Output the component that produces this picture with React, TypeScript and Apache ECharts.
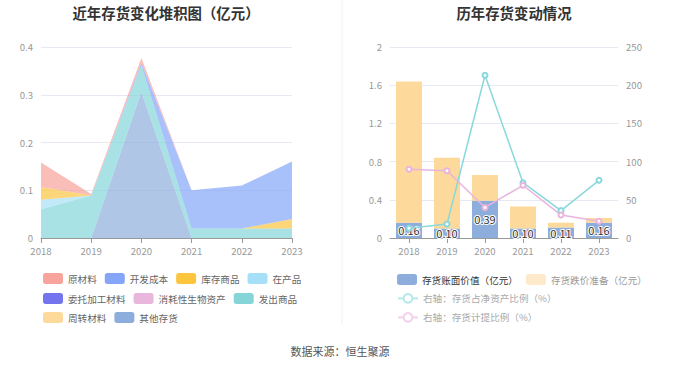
import React, { useEffect, useRef } from 'react';
import * as echarts from 'echarts';

const years = ['2018', '2019', '2020', '2021', '2022', '2023'];

// Left chart: inventory composition (亿元)
const rawMaterial = [0.051, 0.003, 0.01, 0, 0, 0];
const devCost = [0, 0, 0.005, 0.08, 0.09, 0.12];
const goodsInStock = [0.027, 0, 0, 0, 0, 0.02];
const wip = [0.02, 0, 0, 0, 0, 0];
const consigned = [0, 0, 0, 0, 0, 0];
const bioAssets = [0, 0, 0, 0, 0, 0];
const shipped = [0.06, 0.089, 0.056, 0.02, 0.02, 0.02];
const turnover = [0, 0, 0, 0, 0, 0];
const otherInv = [0, 0, 0.306, 0, 0, 0];

// Right chart
const bookValue = [0.16, 0.1, 0.39, 0.1, 0.11, 0.16];
const reserve = [1.48, 0.74, 0.27, 0.23, 0.05, 0.05];
const netAssetRatio = [12.7, 18.3, 213, 72.4, 35.8, 75.5];
const provisionRatio = [90, 88, 40, 69, 30, 22];

const leftTicks = { min: 0, max: 0.4, interval: 0.1 };
const rightTicksL = { min: 0, max: 2, interval: 0.4 };
const rightTicksR = { min: 0, max: 250, interval: 50 };

const FONT = "'Noto Sans CJK SC', 'Noto Sans', sans-serif";

const leftSeriesDefs = [
  { name: '原材料', data: rawMaterial, color: '#f8a39b' },
  { name: '开发成本', data: devCost, color: '#85a6f8' },
  { name: '库存商品', data: goodsInStock, color: '#fbc53e' },
  { name: '在产品', data: wip, color: '#a6e0f8' },
  { name: '委托加工材料', data: consigned, color: '#7474ef' },
  { name: '消耗性生物资产', data: bioAssets, color: '#e8b7db' },
  { name: '发出商品', data: shipped, color: '#85d5d8' },
  { name: '周转材料', data: turnover, color: '#fdd99b' },
  { name: '其他存货', data: otherInv, color: '#8daedc' },
];

const BAR1 = '存货账面价值（亿元）';
const BAR2 = '存货跌价准备（亿元）';
const LINE1 = '右轴：存货占净资产比例（%）';
const LINE2 = '右轴：存货计提比例（%）';

export default function App() {
  const ref = useRef<HTMLDivElement>(null);
  useEffect(() => {
    document.body.style.margin = '0';
    if (!ref.current) return;
    const chart = echarts.init(ref.current, undefined, { renderer: 'svg' });

    const leftSeries = [...leftSeriesDefs].reverse().map((d) => ({
      name: d.name,
      type: 'line',
      stack: 'inv',
      xAxisIndex: 0,
      yAxisIndex: 0,
      data: d.data,
      symbol: 'none',
      showSymbol: false,
      lineStyle: { width: 0 },
      itemStyle: { color: d.color },
      areaStyle: { color: d.color, opacity: 0.7 },
    }));

    const legendCommon = {
      itemWidth: 20,
      itemHeight: 11,
      itemGap: 8,
      textStyle: { fontSize: 9.6, color: '#666', fontFamily: FONT },
      selectedMode: false,
    };

    const axisLabelStyle = { color: '#999', fontSize: 9.6, fontFamily: FONT };

    chart.setOption({
      animation: false,
      textStyle: { fontFamily: FONT },
      grid: [
        { left: 41, top: 47, width: 251, height: 191 },
        { left: 390, top: 47, width: 228, height: 191 },
      ],
      xAxis: [
        {
          type: 'category',
          gridIndex: 0,
          data: years,
          boundaryGap: false,
          axisLine: { lineStyle: { color: '#999' } },
          axisTick: { show: true, lineStyle: { color: '#999' } },
          axisLabel: axisLabelStyle,
        },
        {
          type: 'category',
          gridIndex: 1,
          data: years,
          axisLine: { lineStyle: { color: '#999' } },
          axisTick: { show: true, alignWithLabel: true, lineStyle: { color: '#999' } },
          axisLabel: axisLabelStyle,
        },
      ],
      yAxis: [
        {
          type: 'value',
          gridIndex: 0,
          ...leftTicks,
          axisLine: { show: false },
          axisTick: { show: false },
          axisLabel: axisLabelStyle,
          splitLine: { lineStyle: { color: '#e6e9f2' } },
        },
        {
          type: 'value',
          gridIndex: 1,
          ...rightTicksL,
          axisLine: { show: false },
          axisTick: { show: false },
          axisLabel: axisLabelStyle,
          splitLine: { lineStyle: { color: '#e6e9f2' } },
        },
        {
          type: 'value',
          gridIndex: 1,
          position: 'right',
          ...rightTicksR,
          axisLine: { show: false },
          axisTick: { show: false },
          axisLabel: axisLabelStyle,
          splitLine: { show: false },
        },
      ],
      legend: [
        { ...legendCommon, icon: 'roundRect', left: 38, top: 268, data: ['原材料', '开发成本', '库存商品', '在产品'] },
        { ...legendCommon, icon: 'roundRect', left: 38, top: 288, data: ['委托加工材料', '消耗性生物资产', '发出商品'] },
        { ...legendCommon, icon: 'roundRect', left: 38, top: 307, data: ['周转材料', '其他存货'] },
        {
          ...legendCommon,
          icon: 'roundRect',
          left: 392,
          top: 269,
          data: [
            { name: BAR1, textStyle: { color: '#333' } },
            { name: BAR2, textStyle: { color: '#999' }, itemStyle: { color: '#feeacb' } },
          ],
        },
        {
          ...legendCommon,
          left: 392,
          top: 288,
          data: [
            {
              name: LINE1,
              textStyle: { color: '#aaa' },
              itemStyle: { color: '#b6e8ea' },
              lineStyle: { color: '#b6e8ea' },
            },
          ],
        },
        {
          ...legendCommon,
          left: 392,
          top: 307,
          data: [
            {
              name: LINE2,
              textStyle: { color: '#aaa' },
              itemStyle: { color: '#f4d0ea' },
              lineStyle: { color: '#f4d0ea' },
            },
          ],
        },
      ],
      graphic: [
        {
          type: 'text',
          x: 166,
          y: 12,
          style: {
            text: '近年存货变化堆积图（亿元）',
            fontSize: 14.4,
            fontWeight: 'bold',
            fill: '#333',
            fontFamily: FONT,
            align: 'center',
            verticalAlign: 'middle',
          },
        },
        {
          type: 'text',
          x: 514,
          y: 12,
          style: {
            text: '历年存货变动情况',
            fontSize: 14.4,
            fontWeight: 'bold',
            fill: '#333',
            fontFamily: FONT,
            align: 'center',
            verticalAlign: 'middle',
          },
        },
        {
          type: 'line',
          shape: { x1: 342, y1: 0, x2: 342, y2: 325 },
          style: { stroke: '#f2f2f2', lineWidth: 1 },
        },
        {
          type: 'text',
          x: 340,
          y: 351,
          style: {
            text: '数据来源：恒生聚源',
            fontSize: 11,
            fill: '#555',
            fontFamily: FONT,
            align: 'center',
            verticalAlign: 'middle',
          },
        },
      ],
      series: [
        ...leftSeries,
        {
          name: BAR1,
          type: 'bar',
          xAxisIndex: 1,
          yAxisIndex: 1,
          stack: 'bar',
          barWidth: 26,
          data: bookValue,
          itemStyle: { color: '#8daedc' },
          label: {
            show: true,
            position: 'inside',
            formatter: (p: any) => Number(p.value).toFixed(2),
            color: '#333',
            fontSize: 11,
            textBorderColor: '#fff',
            textBorderWidth: 2,
          },
        },
        {
          name: BAR2,
          type: 'bar',
          xAxisIndex: 1,
          yAxisIndex: 1,
          stack: 'bar',
          barWidth: 26,
          data: reserve,
          itemStyle: { color: '#fdd99b' },
        },
        {
          name: LINE1,
          type: 'line',
          xAxisIndex: 1,
          yAxisIndex: 2,
          data: netAssetRatio,
          symbol: 'emptyCircle',
          symbolSize: 5,
          lineStyle: { color: '#88d8dc', width: 1.5 },
          itemStyle: { color: '#88d8dc' },
        },
        {
          name: LINE2,
          type: 'line',
          xAxisIndex: 1,
          yAxisIndex: 2,
          data: provisionRatio,
          symbol: 'emptyCircle',
          symbolSize: 5,
          lineStyle: { color: '#e8b4dd', width: 1.5 },
          itemStyle: { color: '#e8b4dd' },
        },
      ],
    });
    return () => chart.dispose();
  }, []);
  return <div ref={ref} style={{ width: 680, height: 367 }} />;
}
